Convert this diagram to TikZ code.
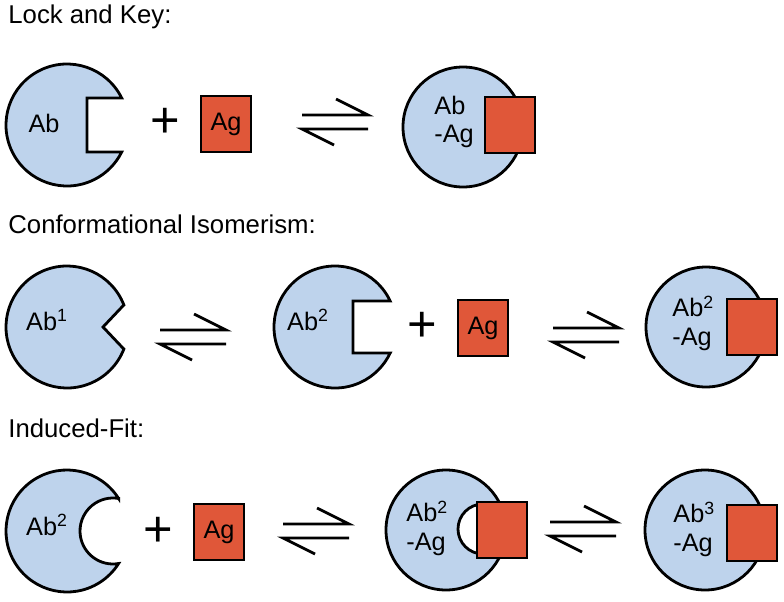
\documentclass[tikz,border=0pt]{standalone}
\usepackage{fontspec}
\setmainfont{Liberation Sans}
\usepackage{tikz}
\usetikzlibrary{shapes}
\usetikzlibrary{positioning}
\definecolor{abblue}{RGB}{190,211,236}
\definecolor{agred}{RGB}{224,87,57}

\begin{document}
\begin{tikzpicture}[x=0.25mm, y=-0.25mm, line width=0.7mm,
    title/.style={anchor=base west, inner sep=0, font=\fontsize{18.3pt}{22pt}\selectfont},
    lbl/.style={inner sep=0, font=\fontsize{18pt}{20pt}\selectfont},
    ab/.style={draw, fill=abblue},
    agbox/.style={draw, fill=agred, rectangle, minimum width=12.5mm, minimum height=14mm, inner sep=0, font=\fontsize{18pt}{20pt}\selectfont},
    plus/.style={inner sep=0, font=\fontsize{36pt}{36pt}\selectfont}]

    \useasboundingbox (0,0) rectangle (784,601);

    % lock and key
    \node(T1)[title] at (7,23) {Lock and Key:};

    \draw[ab] (67,125) ++(-26.3:61) arc[start angle=-26.3, end angle=-333.7, radius=61] -- (87,152) -- (87,98) -- cycle;
    \node(Ab1)[lbl, anchor=base] at (44,132) {Ab};
    \node(P1)[plus] at (165,123) {+};
    \node(Ag1)[agbox] at (226,124) {Ag};

    \coordinate(E1) at (302,115);
    \draw (E1) -- ++(66,0) -- ++(-32,-16);
    \draw (E1) ++(66,14) -- ++(-66,0) -- ++(32,16);

    \draw[ab] (463,127) circle[radius=60];
    \node(C1)[lbl, align=left, anchor=west] at (433,122) {Ab\\-Ag};
    \node(S1)[agbox] at (510,125) {};

    % conformational isomerism
    \node(T2)[title] at (7,233) {Conformational Isomerism:};

    \draw[ab] (67,327) ++(-21.2:61) arc[start angle=-21.2, end angle=-338.8, radius=61] -- (103,327) -- cycle;
    \node(Ab2)[lbl, anchor=base] at (47,330) {Ab\textsuperscript{1}};

    \coordinate(E2) at (160,330);
    \draw (E2) -- ++(66,0) -- ++(-32,-16);
    \draw (E2) ++(66,14) -- ++(-66,0) -- ++(32,16);

    \draw[ab] (335,327) ++(-25.2:61) arc[start angle=-25.2, end angle=-334.8, radius=61] -- (353,353) -- (353,301) -- cycle;
    \node(Ab3)[lbl, anchor=base] at (308,330) {Ab\textsuperscript{2}};
    \node(P2)[plus] at (422,327) {+};
    \node(Ag2)[agbox] at (483,328) {Ag};

    \coordinate(E3) at (553,328);
    \draw (E3) -- ++(66,0) -- ++(-32,-16);
    \draw (E3) ++(66,14) -- ++(-66,0) -- ++(32,16);

    \draw[ab] (706,327) circle[radius=60];
    \node(C2)[lbl, align=left, anchor=west] at (671,323) {Ab\textsuperscript{2}\\-Ag};
    \node(S2)[agbox] at (752,327) {};

    % induced fit
    \node(T3)[title] at (7,437) {Induced-Fit:};

    \draw[ab] (67,531) ++(-32.2:61) arc[start angle=-32.2, end angle=-327.8, radius=61] arc[start angle=80.2, end angle=279.8, radius=33] -- cycle;
    \node(Ab4)[lbl, anchor=base] at (47,535) {Ab\textsuperscript{2}};
    \node(P3)[plus] at (158,532) {+};
    \node(Ag3)[agbox] at (219,532) {Ag};

    \coordinate(E4) at (283,524);
    \draw (E4) -- ++(66,0) -- ++(-32,-16);
    \draw (E4) ++(66,14) -- ++(-66,0) -- ++(32,16);

    \draw[ab] (446,530) circle[radius=60];
    \draw[fill=white] (483,529) circle[radius=25];
    \node(C3)[lbl, align=left, anchor=west] at (405,528) {Ab\textsuperscript{2}\\-Ag};
    \node(S3)[agbox] at (502,530) {};

    \coordinate(E5) at (550,522);
    \draw (E5) -- ++(66,0) -- ++(-32,-16);
    \draw (E5) ++(66,14) -- ++(-66,0) -- ++(32,16);

    \draw[ab] (705,530) circle[radius=60];
    \node(C4)[lbl, align=left, anchor=west] at (672,529) {Ab\textsuperscript{3}\\-Ag};
    \node(S4)[agbox] at (752,533) {};

\end{tikzpicture}
\end{document}
